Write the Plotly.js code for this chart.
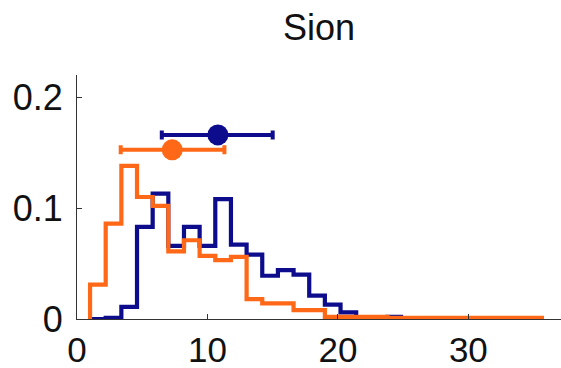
<!DOCTYPE html>
<html>
<head>
<meta charset="utf-8">
<script src="https://cdn.plot.ly/plotly-3.0.1.min.js"></script>
<style>
  html, body { margin: 0; padding: 0; background: #fff; }
  #chart { width: 561px; height: 368px; }
</style>
</head>
<body>
<div id="chart"></div>
<script>
// Histogram bin edges (shared by both distributions)
const binEdges = [1.0, 2.2, 3.4, 4.6, 5.8, 7.0, 8.2, 9.4, 10.6, 11.8, 13.0, 14.2, 15.4, 16.6,
  17.8, 19.0, 20.2, 21.4, 22.6, 23.8, 25.0, 26.2, 27.4, 28.6, 29.8, 31.0, 32.2, 33.4, 34.6, 35.8];

// Normalised counts per bin
const blueCounts = [0.000, 0.001, 0.011, 0.083, 0.113, 0.066, 0.083, 0.066, 0.108, 0.067,
  0.058, 0.039, 0.044, 0.040, 0.021, 0.013, 0.006, 0.000, 0.000, 0.002];
const orangeCounts = [0.031, 0.086, 0.138, 0.110, 0.102, 0.061, 0.071, 0.057, 0.053, 0.056,
  0.018, 0.014, 0.014, 0.008, 0.008, 0.002, 0.002, 0.002, 0.002, 0.001,
  0.001, 0.001, 0.001, 0.001, 0.001, 0.001, 0.001, 0.001, 0.001];

// Mean and spread of each distribution
const blueMean = 10.8, blueLow = 6.5, blueHigh = 15.0, blueLevel = 0.166;
const orangeMean = 7.3, orangeLow = 3.35, orangeHigh = 11.3, orangeLevel = 0.1525;

const xTicks = [0, 10, 20, 30];
const yTicks = [0, 0.1, 0.2];

const BLUE = 'rgb(12,12,140)';
const ORANGE = 'rgb(255,104,22)';

// Build a step outline that starts from zero at the first edge
function stairs(counts) {
  const xs = [binEdges[0]];
  const ys = [0];
  for (let i = 0; i < counts.length; i++) {
    xs.push(binEdges[i]);
    ys.push(counts[i]);
  }
  xs.push(binEdges[counts.length]);
  ys.push(counts[counts.length - 1]);
  return { xs, ys };
}

function stepTrace(counts, color) {
  const s = stairs(counts);
  return {
    type: 'scatter', mode: 'lines', x: s.xs, y: s.ys,
    line: { shape: 'hv', color: color, width: 4.2 },
    hoverinfo: 'skip'
  };
}

function meanTrace(mean, low, high, level, color) {
  return {
    type: 'scatter', mode: 'markers', x: [mean], y: [level],
    marker: { size: 21, color: color },
    error_x: {
      type: 'data', symmetric: false,
      array: [high - mean], arrayminus: [mean - low],
      color: color, thickness: 4, width: 4.5
    }
  };
}

const data = [
  stepTrace(blueCounts, BLUE),
  stepTrace(orangeCounts, ORANGE),
  meanTrace(blueMean, blueLow, blueHigh, blueLevel, BLUE),
  meanTrace(orangeMean, orangeLow, orangeHigh, orangeLevel, ORANGE)
];

const FONT = 'Liberation Sans, Arial, sans-serif';

const layout = {
  width: 561, height: 368,
  margin: { l: 77, r: 0, t: 75, b: 49, pad: 0 },
  paper_bgcolor: '#fff', plot_bgcolor: '#fff',
  showlegend: false,
  font: { family: FONT, size: 36, color: '#111' },
  title: {
    text: 'Sion', font: { family: FONT, size: 36, color: '#111' },
    x: 0.5, xref: 'paper', y: 0.925, yref: 'container', yanchor: 'middle'
  },
  xaxis: {
    range: [0, 37.1], tickvals: xTicks, ticktext: xTicks.map(String),
    ticks: 'inside', ticklen: 5, tickcolor: '#333', tickwidth: 1,
    showline: true, linecolor: '#333', linewidth: 1,
    showgrid: false, zeroline: false, ticklabelstandoff: 0,
    tickfont: { family: FONT, size: 35, color: '#111' }
  },
  yaxis: {
    range: [0, 0.22], tickvals: yTicks, ticktext: ['0', '0.1', '0.2'],
    ticks: 'inside', ticklen: 5, tickcolor: '#333', tickwidth: 1,
    showline: true, linecolor: '#333', linewidth: 1,
    showgrid: false, zeroline: false, ticklabelstandoff: 6,
    tickfont: { family: FONT, size: 36, color: '#111' }
  }
};

Plotly.newPlot('chart', data, layout, { displayModeBar: false, staticPlot: true });
</script>
</body>
</html>
